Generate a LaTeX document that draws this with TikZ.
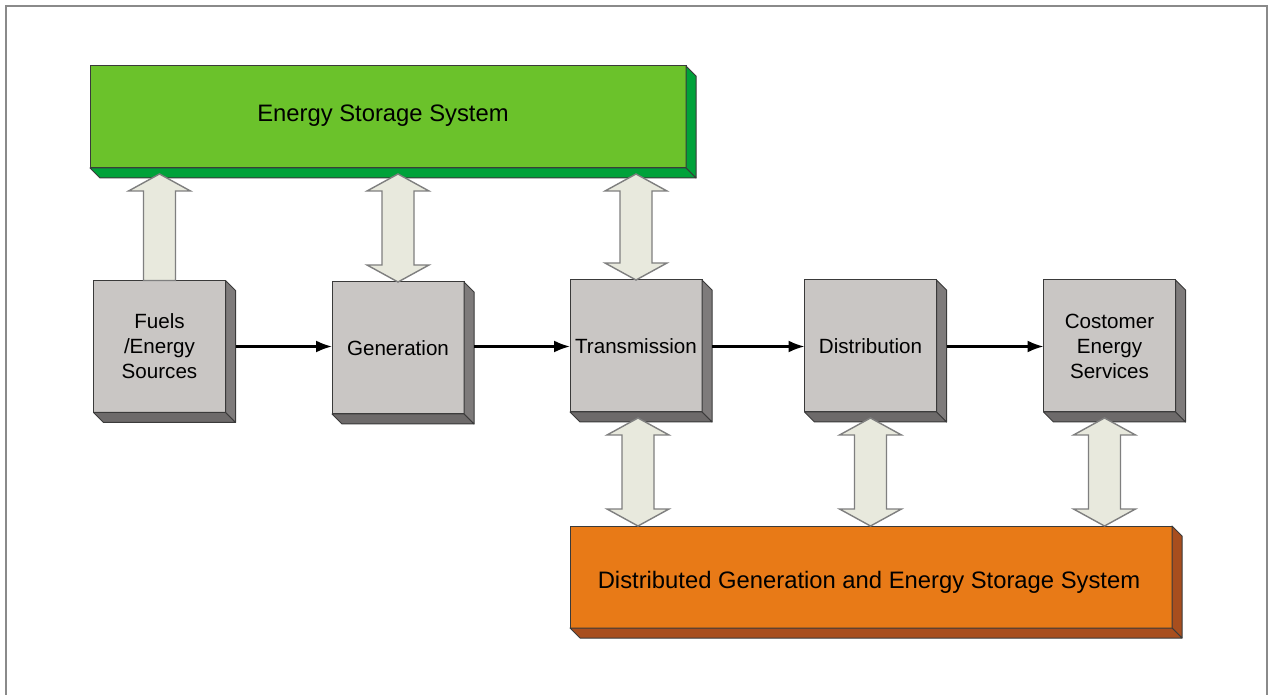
\documentclass[tikz,border=0pt]{standalone}
\usepackage{fontspec}
\setmainfont{Liberation Sans}
\usetikzlibrary{calc,arrows.meta}
\definecolor{greenfront}{HTML}{6BC22B}
\definecolor{greenside}{HTML}{00A23A}
\definecolor{orangefront}{HTML}{E87A17}
\definecolor{orangeside}{HTML}{A84E1E}
\definecolor{grayfront}{HTML}{C9C6C4}
\definecolor{grayright}{HTML}{7E7B7B}
\definecolor{graybottom}{HTML}{6D6A6A}
\definecolor{arrowfill}{HTML}{E8E9DD}
\definecolor{arrowline}{HTML}{7F7F7F}
\definecolor{edgecol}{HTML}{3A3A3A}
\definecolor{framecol}{HTML}{8A8A8A}
\tikzset{
  box3d/.style={draw=edgecol, line width=0.5pt, outer sep=0pt, inner sep=0pt, align=center},
  graybox/.style={box3d, fill=grayfront, minimum width=66pt, minimum height=66pt,
    font=\fontsize{10.3}{12.5}\selectfont},
  bigbox/.style={box3d, minimum height=51pt, font=\fontsize{11.9}{14}\selectfont},
  blockarrow/.style={fill=arrowfill, draw=arrowline, line width=0.7pt, line join=miter},
  flow/.style={line width=1.1pt, -{Latex[length=8pt,width=6pt]}},
}
% depth faces of a box: #1 node, #2 right colour, #3 bottom colour
\newcommand\depthfaces[3]{%
  \filldraw[fill=#2, draw=edgecol, line width=0.5pt, line join=round]
    (#1.north east) -- ++(5pt,-5pt) -- ($(#1.south east)+(5pt,-5pt)$) -- (#1.south east) -- cycle;
  \filldraw[fill=#3, draw=edgecol, line width=0.5pt, line join=round]
    (#1.south west) -- ++(5pt,-5pt) -- ($(#1.south east)+(5pt,-5pt)$) -- (#1.south east) -- cycle;
}
% double block arrow: #1 x reference, #2 top tip, #3 bottom tip
\newcommand\dblarrow[3]{%
  \path[blockarrow] let \p1=#1, \p2=#2, \p3=#3 in
    (\x1,\y2) -- (\x1+15.5pt,\y2-8.5pt) -- (\x1+8pt,\y2-8.5pt) -- (\x1+8pt,\y3+8.5pt)
    -- (\x1+15.5pt,\y3+8.5pt) -- (\x1,\y3) -- (\x1-15.5pt,\y3+8.5pt) -- (\x1-8pt,\y3+8.5pt)
    -- (\x1-8pt,\y2-8.5pt) -- (\x1-15.5pt,\y2-8.5pt) -- cycle;
}
% single upward block arrow
\newcommand\uparrowblock[3]{%
  \path[blockarrow] let \p1=#1, \p2=#2, \p3=#3 in
    (\x1,\y2) -- (\x1+15.5pt,\y2-8.5pt) -- (\x1+8pt,\y2-8.5pt) -- (\x1+8pt,\y3)
    -- (\x1-8pt,\y3) -- (\x1-8pt,\y2-8.5pt) -- (\x1-15.5pt,\y2-8.5pt) -- cycle;
}
\begin{document}
\begin{tikzpicture}[x=0.5pt,y=-0.5pt]
\useasboundingbox (0,0) rectangle (1270,695);
\fill[white] (0,0) rectangle (1270,695);
\draw[framecol, line width=1.2pt] (6,695) -- (6,6) -- (1267,6) -- (1267,695);

% top storage box
\node[bigbox, fill=greenfront, minimum width=298pt] (ess) at (388,117) {};
\depthfaces{ess}{greenside}{greenside}
\node[font=\fontsize{11.9}{14}\selectfont] (esst) at (383,116) {Energy Storage System};

% bottom storage box
\node[bigbox, fill=orangefront, minimum width=301pt] (dg) at (871,577) {};
\depthfaces{dg}{orangeside}{orangeside}
\node[font=\fontsize{11.9}{14}\selectfont] (dgt) at (869,582) {Distributed Generation and Energy Storage System};

% chain of boxes
\node[graybox] (fuel) at (159.5,346.5) {Fuels\\/Energy\\Sources};
\node[graybox] (gen) at (398,348) {Generation};
\node[graybox] (tra) at (636,346) {Transmission};
\node[graybox] (dis) at (870.5,346) {Distribution};
\node[graybox] (cus) at (1109.5,346) {Costomer\\Energy\\Services};
\foreach \n in {fuel,gen,tra,dis,cus}{\depthfaces{\n}{grayright}{graybottom}}

% flow arrows
\draw[flow] ($(fuel.east)+(5pt,0)$) -- (gen.west |- fuel.east);
\draw[flow] ($(gen.east |- fuel.east)+(5pt,0)$) -- (tra.west |- fuel.east);
\draw[flow] ($(tra.east |- fuel.east)+(5pt,0)$) -- (dis.west |- fuel.east);
\draw[flow] ($(dis.east |- fuel.east)+(5pt,0)$) -- (cus.west |- fuel.east);

% block arrows to the top storage box
\uparrowblock{(fuel.north)}{($(ess.south)+(0,-3pt)$)}{(fuel.north)}
\dblarrow{(gen.north)}{($(ess.south)+(0,-3pt)$)}{(gen.north)}
\dblarrow{(tra.north)}{($(ess.south)+(0,-3pt)$)}{(tra.north)}

% block arrows to the bottom storage box
\dblarrow{($(tra.south)+(1pt,0)$)}{($(tra.south)+(0,-3pt)$)}{(dg.north)}
\dblarrow{(dis.south)}{($(dis.south)+(0,-3pt)$)}{(dg.north)}
\dblarrow{($(cus.south)+(-2.5pt,0)$)}{($(cus.south)+(0,-3pt)$)}{(dg.north)}
\end{tikzpicture}
\end{document}
